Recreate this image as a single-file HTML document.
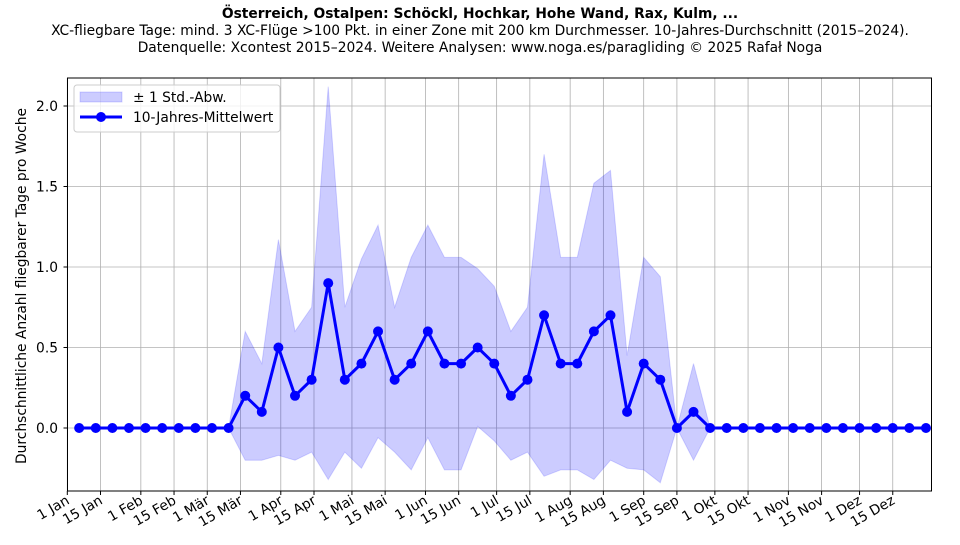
<!DOCTYPE html>
<html><head><meta charset="utf-8"><style>
body{margin:0;background:#fff;font-family:"Liberation Sans","DejaVu Sans",sans-serif}
svg text{font-family:"DejaVu Sans","Liberation Sans",sans-serif}
</style></head><body>
<svg id="s" width="960" height="540" xmlns="http://www.w3.org/2000/svg">
<rect width="960" height="540" fill="#fff"/>
<text x="480" y="18" text-anchor="middle" font-size="13.8" font-weight="bold">Österreich, Ostalpen: Schöckl, Hochkar, Hohe Wand, Rax, Kulm, ...</text>
<text x="480" y="35" text-anchor="middle" font-size="13.8">XC-fliegbare Tage: mind. 3 XC-Flüge &gt;100 Pkt. in einer Zone mit 200 km Durchmesser. 10-Jahres-Durchschnitt (2015–2024).</text>
<text x="480" y="52" text-anchor="middle" font-size="13.8">Datenquelle: Xcontest 2015–2024. Weitere Analysen: www.noga.es/paragliding © 2025 Rafał Noga</text>
<g id="grid" stroke="#b0b0b0" stroke-width="0.8"></g>
<polygon id="band" fill="#0000ff" fill-opacity="0.2" stroke="#0000ff" stroke-opacity="0.15"/>
<polyline id="line" fill="none" stroke="#0000ff" stroke-width="3"/>
<g id="dots" fill="#0000ff"></g>
<rect x="67.5" y="78" width="864" height="413" fill="none" stroke="#000" stroke-width="1"/>
<g id="ticks" stroke="#000"></g>
<g font-size="13.8" text-anchor="end">
<text x="58" y="433">0.0</text><text x="58" y="352.5">0.5</text><text x="58" y="272">1.0</text><text x="58" y="191.5">1.5</text><text x="58" y="111">2.0</text>
</g>
<g id="xl" font-size="13.8" text-anchor="end"></g>
<text transform="translate(26,286) rotate(-90)" text-anchor="middle" font-size="13.8">Durchschnittliche Anzahl fliegbarer Tage pro Woche</text>
<rect x="74" y="85" width="206" height="47" rx="3" fill="#fff" fill-opacity="0.8" stroke="#ccc"/>
<rect x="80" y="92" width="42" height="10" fill="#0000ff" fill-opacity="0.2" stroke="#0000ff" stroke-opacity="0.15"/>
<text x="133" y="102" font-size="13.8">± 1 Std.-Abw.</text>
<line x1="80" y1="117" x2="122" y2="117" stroke="#0000ff" stroke-width="3"/>
<circle cx="101" cy="117" r="5" fill="#0000ff"/>
<text x="133" y="122" font-size="13.8">10-Jahres-Mittelwert</text>
</svg>
<script>
(function(){
var NS="http://www.w3.org/2000/svg";
function X(d){return 67.3+2.372*d}
function Y(v){return 428-v*161}
var mean=[0,0,0,0,0,0,0,0,0,0,.2,.1,.5,.2,.3,.9,.3,.4,.6,.3,.4,.6,.4,.4,.5,.4,.2,.3,.7,.4,.4,.6,.7,.1,.4,.3,0,.1];
var up={10:.6,11:.4,12:1.17,13:.6,14:.75,15:2.12,16:.75,17:1.05,18:1.26,19:.75,20:1.06,21:1.26,22:1.06,23:1.06,24:.99,25:.88,26:.6,27:.75,28:1.7,29:1.06,30:1.06,31:1.52,32:1.6,33:.45,34:1.06,35:.94,36:0,37:.4};
while(mean.length<52)mean.push(0);
var upArr=[],botArr=[],pts=[];
for(var i=0;i<52;i++){var d=5+7*i,m=mean[i],u=(up[i]!==undefined?up[i]:m),l=2*m-u;
upArr.push(X(d)+","+Y(u));botArr.unshift(X(d)+","+Y(l));pts.push(X(d)+","+Y(m));
var c=document.createElementNS(NS,"circle");c.setAttribute("cx",X(d));c.setAttribute("cy",Y(m));c.setAttribute("r",5);document.getElementById("dots").appendChild(c);}
document.getElementById("band").setAttribute("points",upArr.concat(botArr).join(" "));
document.getElementById("line").setAttribute("points",pts.join(" "));
var td=[0,14,31,45,59,73,90,104,120,134,151,165,181,195,212,226,243,257,273,287,304,318,334,348];
var tl=["1 Jan","15 Jan","1 Feb","15 Feb","1 Mär","15 Mär","1 Apr","15 Apr","1 Mai","15 Mai","1 Jun","15 Jun","1 Jul","15 Jul","1 Aug","15 Aug","1 Sep","15 Sep","1 Okt","15 Okt","1 Nov","15 Nov","1 Dez","15 Dez"];
var g=document.getElementById("grid"),t=document.getElementById("ticks"),xl=document.getElementById("xl");
function ln(p,a,b,c,d){var e=document.createElementNS(NS,"line");e.setAttribute("x1",a);e.setAttribute("y1",b);e.setAttribute("x2",c);e.setAttribute("y2",d);p.appendChild(e);}
td.forEach(function(d,k){var x=X(d);ln(g,x,78,x,491);ln(t,x,491,x,495);
var tx=document.createElementNS(NS,"text");tx.setAttribute("transform","translate("+(x+3)+",503) rotate(-30)");tx.textContent=tl[k];xl.appendChild(tx);});
[0,.5,1,1.5,2].forEach(function(v){ln(g,67.5,Y(v),931.5,Y(v));ln(t,63.5,Y(v),67.5,Y(v));});
})();
</script>
</body></html>
